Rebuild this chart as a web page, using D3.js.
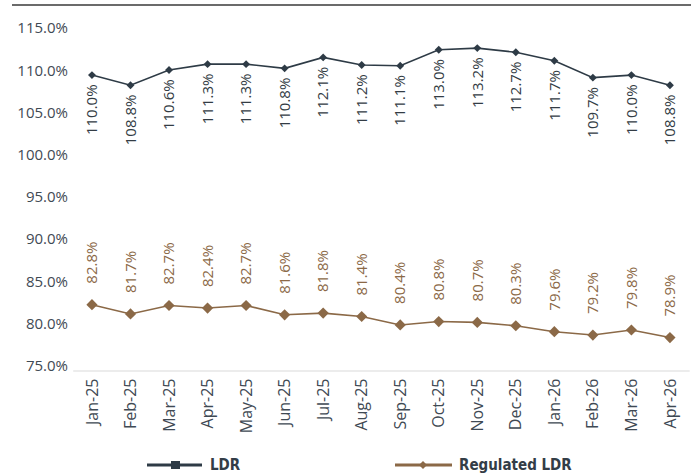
<!DOCTYPE html>
<html>
<head>
<meta charset="utf-8">
<script src="https://cdn.jsdelivr.net/npm/d3@7"></script>
<style>
  html, body { margin: 0; padding: 0; background: #fff; }
  svg { display: block; }
</style>
</head>
<body>
<div id="chart"></div>
<script>
// Monthly loan-to-deposit ratios (%)
const months = ["Jan-25","Feb-25","Mar-25","Apr-25","May-25","Jun-25","Jul-25","Aug-25",
                "Sep-25","Oct-25","Nov-25","Dec-25","Jan-26","Feb-26","Mar-26","Apr-26"];
const ldr = [110.0,108.8,110.6,111.3,111.3,110.8,112.1,111.2,111.1,113.0,113.2,112.7,111.7,109.7,110.0,108.8];
const regulatedLdr = [82.8,81.7,82.7,82.4,82.7,81.6,81.8,81.4,80.4,80.8,80.7,80.3,79.6,79.2,79.8,78.9];
const yTicks = [75,80,85,90,95,100,105,110,115];
const seriesNames = ["LDR", "Regulated LDR"];

const W = 700, H = 475;
const darkColor = "#2e3b46";
const brownColor = "#8b6947";
const textColor = "#3f4a54";
const fontFamily = "'Open Sans', sans-serif";

const svg = d3.select("#chart").append("svg")
  .attr("width", W).attr("height", H);

// Rule across the top
svg.append("line")
  .attr("x1", 12).attr("x2", 691).attr("y1", 5).attr("y2", 5)
  .attr("stroke", "#3a3a3a").attr("stroke-width", 1.6);

const x = d3.scaleBand().domain(months).range([72.7, 689.2]);
const y = d3.scaleLinear().domain([75, 115]).range([370.5, 32.9]);
const cx = m => x(m) + x.bandwidth() / 2;

// Y axis labels (no line, no ticks)
const yAxis = svg.append("g")
  .attr("transform", "translate(68,0)")
  .call(d3.axisLeft(y).tickValues(yTicks).tickSize(0).tickPadding(0)
        .tickFormat(d => d.toFixed(1) + "%"));
yAxis.select(".domain").remove();
yAxis.selectAll("text")
  .attr("font-family", fontFamily).attr("font-size", 15)
  .attr("fill", textColor).attr("dy", "0em");

// X axis: light baseline with rotated month labels
const xAxis = svg.append("g")
  .attr("transform", `translate(0,${y(75)})`)
  .call(d3.axisBottom(x).tickSize(0).tickPadding(0));
xAxis.select(".domain").attr("stroke", "#d9d9d9").attr("stroke-width", 1.2);
xAxis.selectAll("text")
  .attr("font-family", fontFamily).attr("font-size", 16)
  .attr("fill", textColor)
  .attr("text-anchor", "end")
  .attr("transform", "rotate(-90)")
  .attr("x", -8).attr("y", 0).attr("dy", "0.35em");

const line = d3.line().x((d, i) => cx(months[i])).y(d => y(d));

// LDR series
svg.append("path").datum(ldr)
  .attr("d", line).attr("fill", "none")
  .attr("stroke", darkColor).attr("stroke-width", 1.6);
svg.append("g").selectAll("path").data(ldr).join("path")
  .attr("d", d3.symbol(d3.symbolDiamond2, 40)())
  .attr("transform", (d, i) => `translate(${cx(months[i])},${y(d)})`)
  .attr("fill", darkColor);
svg.append("g").selectAll("text").data(ldr).join("text")
  .attr("transform", (d, i) => `translate(${cx(months[i])},${y(d) + 60}) rotate(-90)`)
  .attr("dy", "0.35em")
  .attr("text-anchor", "start")
  .attr("font-family", fontFamily).attr("font-size", 15)
  .attr("fill", "#333c44")
  .text(d => d.toFixed(1) + "%");

// Regulated LDR series
svg.append("path").datum(regulatedLdr)
  .attr("d", line).attr("fill", "none")
  .attr("stroke", brownColor).attr("stroke-width", 1.6);
svg.append("g").selectAll("path").data(regulatedLdr).join("path")
  .attr("d", d3.symbol(d3.symbolDiamond2, 80)())
  .attr("transform", (d, i) => `translate(${cx(months[i])},${y(d)})`)
  .attr("fill", brownColor);
svg.append("g").selectAll("text").data(regulatedLdr).join("text")
  .attr("transform", (d, i) => `translate(${cx(months[i])},${y(d) - 21}) rotate(-90)`)
  .attr("dy", "0.35em")
  .attr("text-anchor", "start")
  .attr("font-family", fontFamily).attr("font-size", 15)
  .attr("fill", brownColor)
  .text(d => d.toFixed(1) + "%");

// Legend
const legendY = 465;
const leg = svg.append("g");
leg.append("line").attr("x1", 147).attr("x2", 202).attr("y1", legendY).attr("y2", legendY)
  .attr("stroke", darkColor).attr("stroke-width", 3);
leg.append("rect").attr("x", 171).attr("y", legendY - 4).attr("width", 9).attr("height", 8)
  .attr("fill", darkColor);
leg.append("text").attr("x", 210).attr("y", legendY).attr("dy", "0.36em")
  .attr("font-family", "'DejaVu Sans Condensed', 'DejaVu Sans', sans-serif")
  .attr("font-weight", "bold").attr("font-size", 15).attr("fill", "#333d47")
  .text(seriesNames[0]);
leg.append("line").attr("x1", 395).attr("x2", 452).attr("y1", legendY).attr("y2", legendY)
  .attr("stroke", brownColor).attr("stroke-width", 3);
leg.append("path").attr("d", d3.symbol(d3.symbolDiamond2, 40)())
  .attr("transform", `translate(423,${legendY})`).attr("fill", brownColor);
leg.append("text").attr("x", 459).attr("y", legendY).attr("dy", "0.36em")
  .attr("font-family", "'DejaVu Sans Condensed', 'DejaVu Sans', sans-serif")
  .attr("font-weight", "bold").attr("font-size", 15).attr("fill", "#333d47")
  .text(seriesNames[1]);
</script>
</body>
</html>
